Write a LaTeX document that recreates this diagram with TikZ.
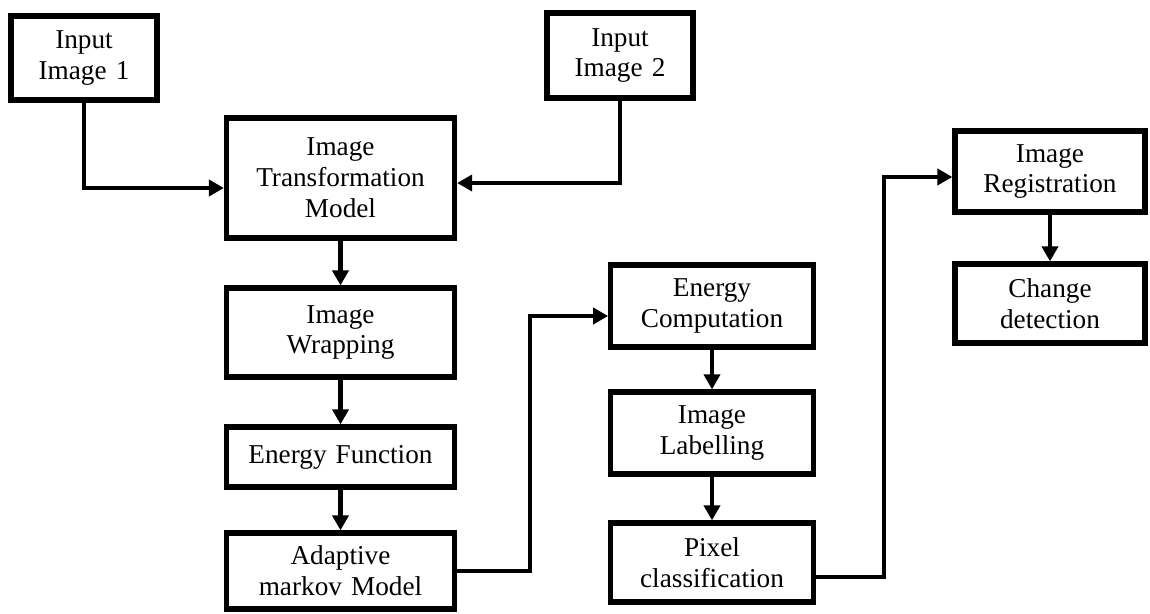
\documentclass[tikz,border=0pt]{standalone}
\usepackage{fontspec}
\setmainfont{Liberation Serif}
\usetikzlibrary{positioning,arrows.meta}
\begin{document}
\begin{tikzpicture}[node distance=2.5cm,auto,font=\fontsize{15.5}{17.6}\selectfont]
	\tikzstyle{rectA} = [rectangle,line width=3pt,minimum width =4.56cm,fill=white,
	text width=4cm,inner sep=2pt,minimum height =1.7cm, text centered, draw = black]
	\tikzstyle{rectB} = [rectangle,line width=3pt,minimum width =4.05cm,fill=white,
	text width=3.6cm,inner sep=2pt,minimum height =1.64cm, text centered, draw = black]
	\tikzstyle{rectC} = [rectangle,line width=3pt,minimum width =3.8cm,fill=white,
	text width=3.4cm,inner sep=2pt,minimum height =1.6cm, text centered, draw = black]
	\tikzstyle{link} = [line width=2.5pt,-{Triangle[length=0.3cm,width=0.32cm]}]

	\useasboundingbox (-1.68,1.16) rectangle (21.32,-11.1);

	\node (input1) [rectC, minimum width=2.92cm, text width=2.5cm, minimum height=1.68cm] {Input\\Image 1};
	\node (trans) [rectA, below of=input1,node distance=2.4cm,xshift=5.13cm, minimum height=2.4cm] {Image\\Transformation\\Model};
	\node (input2) [rectC, above of=trans,node distance=2.45cm,xshift=5.59cm, minimum width=2.92cm, text width=2.5cm, minimum height=1.7cm] {Input\\Image 2};
	\node (wrap) [rectA, below of=trans,node distance=3.09cm, minimum height=1.78cm] {Image\\Wrapping};
	\node (efun) [rectA, below of=wrap,node distance=2.49cm, minimum height=1.2cm] {Energy Function};
	\node (amm) [rectA, below of=efun,node distance=2.28cm, minimum height=1.52cm] {Adaptive\\markov Model};
	\node (ecomp) [rectB, right of=wrap,node distance=7.43cm,yshift=0.53cm] {Energy\\Computation};
	\node (label) [rectB, below of=ecomp,node distance=2.54cm] {Image\\Labelling};
	\node (pixel) [rectB, below of=label,node distance=2.59cm, minimum height=1.58cm] {Pixel\\classification};
	\node (reg) [rectC, right of=ecomp,node distance=6.76cm,yshift=2.69cm, minimum height=1.62cm] {Image\\Registration};
	\node (chg) [rectC, below of=reg,node distance=2.64cm, minimum height=1.58cm] {Change\\detection};

	\draw [link] (input1.south) |- ([yshift=-0.2cm]trans.west);
	\draw [link] (input2.south) |- ([yshift=-0.1cm]trans.east);
	\draw [link] (trans) -- (wrap);
	\draw [link] (wrap) -- (efun);
	\draw [link] (efun) -- (amm);
	\draw [link] (amm.east) -- ++(1.46cm,0) |- ([yshift=-0.2cm]ecomp.west);
	\draw [link] (ecomp) -- (label);
	\draw [link] (label) -- (pixel);
	\draw [link] ([yshift=-0.29cm]pixel.east) -- ++(1.36cm,0) |- ([yshift=-0.11cm]reg.west);
	\draw [link] (reg) -- (chg);
\end{tikzpicture}
\end{document}
